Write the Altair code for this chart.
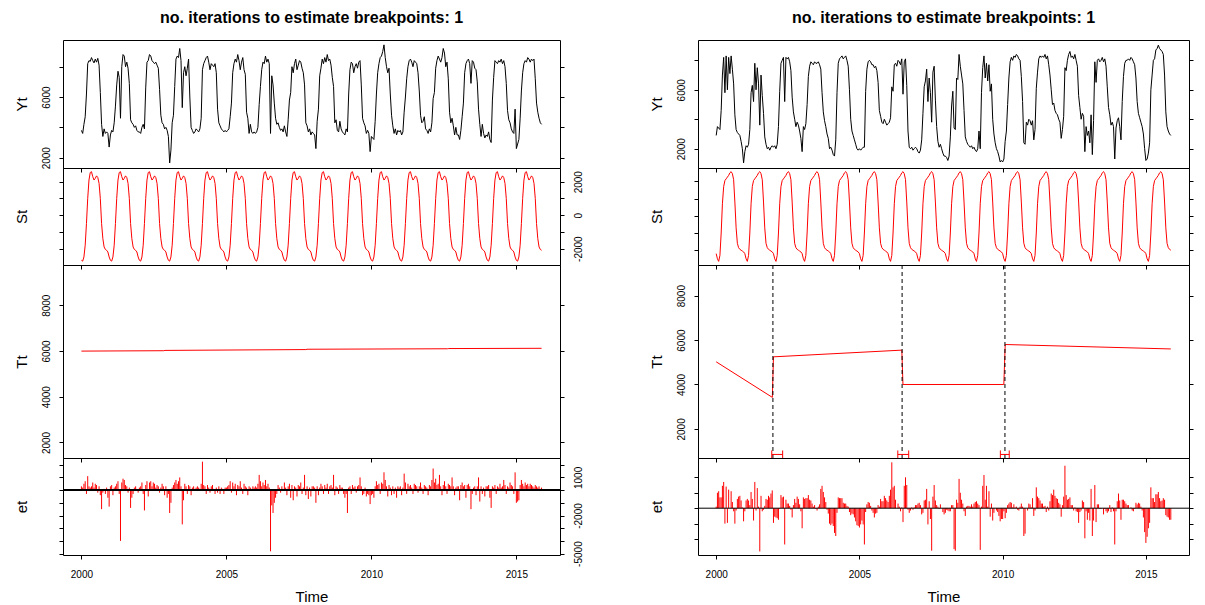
import json
import altair as alt
import pandas as pd

FONT = "Liberation Sans"
RED = "#ff0000"
TITLE = "no. iterations to estimate breakpoints: 1"
START_YEAR = 2000
OBS_PER_YEAR = 23
YEAR_TICKS = [2000, 2005, 2010, 2015]
X_DOMAIN = [1999.365, 2016.505]

# ---------------- left decomposition ----------------
yt_left = [
    [3800, 3600, 4200, 4700, 6200, 8200, 8400, 8350, 8600, 8400, 8250, 8500, 8300, 8550, 8100, 6300, 4200, 3400, 3900, 3600, 3700, 3600, 2700],
    [3500, 3800, 3700, 4300, 5400, 6800, 7700, 7300, 4600, 8000, 8800, 8700, 8000, 8300, 7900, 6900, 4500, 4300, 4200, 4000, 4100, 3800, 3700],
    [3700, 3600, 4000, 4200, 3900, 6600, 8300, 8400, 8800, 8700, 8400, 8300, 8200, 8300, 8100, 7900, 6500, 4800, 4300, 4200, 3900, 4000, 3800],
    [3400, 1650, 2500, 4300, 4800, 6700, 8500, 8700, 8600, 9200, 8400, 5300, 7600, 8000, 7400, 7900, 8500, 6000, 4000, 3800, 3600, 3700, 3900],
    [3800, 3700, 3900, 4600, 7800, 8200, 8400, 8600, 8700, 8300, 7800, 8200, 8100, 8000, 8200, 7600, 5200, 4300, 4100, 3900, 3800, 3700, 3800],
    [3700, 3800, 3900, 4700, 5600, 7600, 8200, 8500, 8300, 8800, 8400, 7800, 8300, 8600, 7800, 7500, 5000, 4600, 3600, 4200, 3700, 3600, 3700],
    [3600, 3700, 4000, 5500, 6700, 7800, 8300, 8200, 8700, 8300, 8500, 8200, 3600, 7400, 6800, 5600, 4600, 4200, 4300, 4000, 3800, 3900, 3700],
    [4100, 3700, 3400, 4500, 5800, 6300, 8000, 7600, 8200, 8500, 7800, 8100, 8400, 8300, 7900, 7600, 6800, 4300, 4100, 3700, 3900, 3500, 3700],
    [3600, 3500, 2600, 4400, 5200, 7400, 7900, 8500, 8200, 8600, 8300, 8800, 8400, 8500, 8100, 7300, 6700, 4300, 4500, 3800, 3700, 4400, 3900],
    [3700, 3600, 3500, 3900, 3700, 6200, 7800, 8300, 8200, 7600, 8000, 8200, 7900, 8300, 8400, 6800, 4600, 4300, 4100, 3600, 3800, 3600, 2400],
    [3400, 3300, 3200, 4400, 6200, 7600, 8200, 8600, 8700, 9000, 9440, 8600, 8000, 7600, 7900, 6200, 4800, 4100, 3600, 3900, 3500, 3800, 3700],
    [3800, 3500, 3700, 5000, 6000, 7200, 8000, 8400, 8500, 8300, 8000, 8400, 8300, 8200, 7600, 6400, 4800, 4300, 4400, 4700, 3900, 3800, 3600],
    [3900, 3700, 4300, 5900, 6300, 7900, 8400, 8700, 8500, 8300, 8600, 9200, 8900, 8000, 8300, 7200, 5000, 4300, 4600, 4100, 3500, 4000, 3500],
    [3500, 3200, 3800, 4700, 5600, 7600, 8200, 8400, 8500, 8200, 6900, 8400, 8300, 7900, 7800, 7000, 5200, 4200, 3400, 4200, 3600, 3300, 3500],
    [3400, 3700, 3200, 3000, 5800, 7300, 8400, 8300, 8200, 8400, 8300, 8500, 8200, 8400, 8000, 6900, 5100, 4500, 4300, 3900, 3700, 3600, 5200],
    [2600, 2900, 3200, 4600, 6400, 7600, 8200, 8400, 8300, 8600, 8500, 8300, 8500, 8400, 8500, 7200, 5600, 5000, 4600, 4300, 4200],
]
st_left_cycle = [-2700, -2750, -2500, -1800, -500, 1000, 2100, 2550, 2600, 2300, 2100, 2200,
                 2350, 2250, 1900, 1000, -500, -1400, -1900, -2050, -2100, -2200, -2500]
tt_left_time = [2000.0, 2002.84, 2002.88, 2007.74, 2007.78, 2012.63, 2012.67, 2015.87]
tt_left_value = [5995, 6012, 6025, 6062, 6076, 6097, 6106, 6117]
et_left = [
    [300, 200, 500, 700, -300, 1100, 300, 200, 300, 600, 200, 500, 400, -200, 300, -400, -1500, -200, 100, -300, 200, -600, -1300],
    [300, 400, -400, 200, 300, 500, 700, -300, -4000, 600, 900, 800, 400, 300, -200, 200, -1400, -600, -300, 200, 300, 100, -200],
    [200, 300, 600, -300, -1600, 400, 700, -500, 600, 700, 300, 600, 500, 200, 400, 300, -200, 200, 500, 300, -400, 300, -600],
    [-300, -1800, -1000, 200, 400, 600, 800, 500, 700, 1000, 300, -2700, -800, 500, 300, -300, 400, 300, -400, 200, 300, 100, 200],
    [300, 200, 100, 500, 2240, 400, 300, -300, 400, 200, -200, 300, 400, 100, -300, 200, -200, 300, -300, 200, 100, -300, 200],
    [200, 300, 400, 700, -200, 600, 300, 500, -400, 400, 300, 700, 200, -300, 500, 300, 200, -400, 300, 200, 100, 300, 200],
    [300, 200, 500, 1200, 700, 300, 600, 400, 800, 300, 500, 200, -4820, -1200, -1800, -1000, -600, -300, 400, 200, -200, 300, 100],
    [600, 200, -400, 300, 500, -600, 400, -800, 300, 200, -500, 400, 300, 600, -300, 200, 1200, -400, 300, -700, 200, -500, 300],
    [300, 200, -1000, 300, -400, 200, 500, 300, -300, 400, 200, 500, -300, 300, 400, 200, 1200, -400, 300, 200, -300, 400, 200],
    [200, -300, -600, -300, -1800, 200, 300, -300, 400, 200, 300, -200, 300, 400, 1000, 300, -400, -300, 200, -500, -300, -400, -1100],
    [-400, -300, -600, 300, 700, 400, 500, -300, 600, 500, 1400, 800, 300, -500, 400, 200, -400, 300, -300, 200, -600, 300, 200],
    [300, -400, 200, 1300, 600, -300, 500, 300, 400, 200, -300, 500, 400, 300, -200, 300, 600, 200, -300, 400, 300, 200, -400],
    [400, 300, 800, 1700, 600, 900, 400, 500, 1200, 300, -400, 400, 700, 300, -300, 500, 400, 300, 1000, 300, -400, 200, 300],
    [300, -800, 400, 600, 300, 400, -600, 400, 500, 300, -1500, -300, 200, 300, -400, 300, 1000, -900, 300, -300, 200, -500, 300],
    [300, 400, -600, -1400, 300, 200, 400, -300, 300, 200, 500, 200, 300, 800, 400, -300, 300, 200, 600, 400, 300, -300, 1400],
    [-1000, -900, -800, 400, 800, 500, 300, 600, 400, 500, 300, 500, 400, 300, 200, 400, 300, 200, 300, 100, 200],
]

# ---------------- right decomposition ----------------
yt_right = [
    [2900, 3500, 3400, 3300, 4600, 7000, 8200, 5800, 8300, 6000, 8200, 7100, 8300, 7400, 6400, 4300, 3300, 3100, 3000, 2900, 2500, 2000, 1040],
    [1800, 2200, 2100, 2300, 3300, 5800, 6300, 5200, 7800, 6000, 7500, 6400, 3600, 7000, 5600, 4400, 2800, 2300, 2000, 2100, 1900, 2100, 2200],
    [2100, 2200, 2000, 2300, 3500, 5900, 7800, 8000, 8200, 5200, 8200, 8100, 8200, 7900, 7300, 5500, 4500, 4000, 3500, 3800, 3600, 3200, 2700],
    [1800, 3500, 3300, 3700, 5000, 6900, 7600, 7900, 7800, 7700, 7900, 7800, 7800, 7900, 7700, 7400, 5800, 4500, 3900, 3500, 3000, 2700, 2000],
    [2100, 1900, 1600, 1500, 2600, 5800, 7800, 8100, 8200, 8300, 8100, 8200, 8300, 8000, 7600, 6000, 4000, 3200, 2900, 2600, 2300, 2000, 1900],
    [2000, 1900, 2000, 2100, 2100, 5900, 7400, 7900, 8000, 7900, 7700, 7700, 7500, 7600, 7300, 6500, 4600, 4200, 3800, 3700, 4000, 3800, 3600],
    [3700, 3800, 4100, 6200, 5900, 7700, 7800, 7600, 8000, 7900, 7700, 8100, 5700, 7900, 8100, 6300, 3200, 2100, 2000, 2100, 1900, 2000, 2100],
    [2000, 1800, 1700, 1900, 2600, 4400, 6200, 6600, 7400, 5200, 6800, 5800, 3800, 7200, 7600, 5300, 3500, 2500, 2100, 2300, 2000, 1700, 1500],
    [1500, 1400, 1200, 1500, 2800, 4900, 5900, 3400, 3300, 6800, 6700, 8400, 7600, 7000, 6400, 4600, 2800, 2500, 2300, 2200, 2100, 2200, 2000],
    [2100, 1900, 1800, 2000, 3200, 2000, 5800, 7500, 8300, 6800, 7800, 6600, 7700, 5900, 6400, 4000, 3000, 2400, 2000, 1800, 1500, 1100, 1200],
    [1100, 1300, 2500, 3200, 5000, 6800, 7900, 8200, 8000, 8300, 8200, 8400, 8300, 8100, 8000, 6900, 5200, 2400, 2300, 3800, 3600, 4000, 3900],
    [3600, 3900, 2600, 3300, 6100, 7200, 8100, 8300, 8200, 8300, 8200, 8400, 8100, 8300, 7700, 7000, 6000, 5000, 5100, 4600, 4400, 4300, 4000],
    [3800, 2700, 3300, 4200, 7500, 7300, 8000, 8400, 8600, 8200, 8300, 8100, 8400, 8000, 7600, 5600, 4800, 4000, 4400, 4200, 1800, 3500, 2900],
    [3200, 2400, 4300, 1600, 3900, 7900, 6500, 8000, 8100, 7900, 8000, 8200, 7900, 8100, 7600, 6200, 4800, 4300, 3600, 3800, 3500, 1300, 3400],
    [3900, 4100, 3500, 2600, 5200, 6900, 7800, 8000, 8000, 8100, 8000, 8200, 8100, 7900, 7700, 6800, 5200, 4400, 4100, 3800, 3500, 3000, 2000],
    [1200, 1300, 1700, 2400, 6000, 7000, 8000, 8100, 8700, 8800, 9030, 8800, 8700, 8600, 8400, 7000, 4500, 3500, 3200, 3000, 2900],
]
st_right_cycle = [-2200, -2500, -2650, -2300, -1000, 700, 1700, 2050, 2150, 2250, 2350, 2500,
                  2570, 2450, 2100, 800, -700, -1600, -1850, -1950, -2000, -2050, -2100]
tt_right_time = [2000.0, 2001.96, 2002.0, 2006.48, 2006.52, 2010.04, 2010.09, 2015.87]
tt_right_value = [5020, 3420, 5245, 5547, 4000, 4000, 5800, 5600]
breaks_right = [2001.98, 2006.49, 2010.08]
ci_low_right = [2001.94, 2006.34, 2009.92]
ci_high_right = [2002.32, 2006.72, 2010.23]
et_right = [
    [100, 1000, 1100, 700, 700, 1450, 1700, -1000, 1400, -950, 1200, 0, 1100, 400, -200, -1000, -150, 600, 750, 800, 500, 50, -850],
    [-200, 500, 600, 500, 200, 1050, 600, -800, 1700, -150, 1300, 100, -2800, 800, -200, -100, 150, 600, 550, 800, 700, 950, 1150],
    [-950, -550, -600, -650, -750, -50, 850, 700, 750, -2350, 550, 300, 300, 150, -100, -600, 200, 600, 350, 750, 600, 250, -200],
    [-1300, 700, 600, 650, 650, 850, 550, 500, 300, 100, 200, -50, -150, 100, 250, 1250, 1450, 1050, 700, 400, -100, -350, -1000],
    [-1100, -1000, -1150, -1600, -1800, -300, 700, 650, 650, 650, 350, 300, 300, 150, 100, -250, -450, -350, -400, -600, -850, -1100, -1150],
    [-1250, -1050, -800, -1050, -2350, -250, 250, 400, 350, 150, -150, -300, -600, -350, -300, 200, 100, 600, 450, 450, 800, 650, 500],
    [400, 800, 1200, 2970, 1350, 1450, 550, 0, 300, 100, -200, 50, -900, 1450, 2000, 1500, -100, -300, -150, 50, -100, 50, 200],
    [200, 300, 350, 200, -400, -300, 500, 550, 1250, -1050, 450, -700, -2750, 750, 1500, 500, 200, 100, -50, 250, 0, -250, -400],
    [-300, -100, -150, -200, -200, 200, 200, -2650, -2750, 550, 350, 1900, 1000, 550, 300, -200, -500, 100, 150, 150, 100, 250, 100],
    [300, 400, 450, 300, 200, -2700, 100, 1450, 2150, 550, 1450, 100, 1100, -550, 300, -800, -300, 0, -150, -250, -500, -850, -700],
    [-700, -200, -650, -300, 200, 300, 400, 350, 50, 250, 50, 100, -100, -150, 100, 300, 100, -1800, -1650, 0, -150, 300, 250],
    [50, 650, -500, -150, 1350, 750, 650, 500, 300, 300, 100, 150, -250, 100, -150, 450, 950, 850, 1200, 800, 650, 600, 350],
    [250, -550, 200, 750, 2750, 850, 550, 600, 700, 200, 200, -150, 50, -200, -250, -950, -250, -150, 500, 400, -1950, -200, -750],
    [-300, -800, 1250, -1800, -800, 1500, -900, 250, 250, -50, -50, 0, -400, -50, -200, -300, -200, 200, -250, 50, -200, -2350, -200],
    [450, 950, 500, -750, 550, 550, 450, 300, 200, 200, 0, 50, -150, -200, -50, 350, 250, 350, 300, 100, -150, -600, -1550],
    [-2250, -1850, -1300, -950, 1350, 650, 650, 400, 900, 900, 1050, 650, 450, 500, 650, 550, -450, -550, -600, -750, -750],
]


def flat(rows):
    return [v for r in rows for v in r]


def series_frame(values):
    t = [START_YEAR + i / OBS_PER_YEAR for i in range(len(values))]
    return pd.DataFrame({"t": t, "v": values})


def seasonal_frame(cycle, n):
    return series_frame([cycle[i % OBS_PER_YEAR] for i in range(n)])


XSCALE = alt.Scale(domain=X_DOMAIN, nice=False, zero=False)


def x_axis(bottom):
    return alt.Axis(
        values=YEAR_TICKS, labels=bottom, format="d", title="Time" if bottom else None,
        tickSize=4, tickColor="black", domain=False, grid=False,
        labelFont=FONT, labelFontSize=10, labelColor="black", labelPadding=18,
        labelBaseline="alphabetic", labelFlush=False,
        titleFont=FONT, titleFontSize=15, titleFontWeight="normal", titleColor="black",
        titleBaseline="alphabetic", titleY=46.5,
    )


def y_axis(orient, ticks, shown, title, height):
    kw = dict(orient=orient, values=ticks, tickSize=4, tickColor="black", domain=False, grid=False,
              labelFont=FONT, labelFontSize=10, labelColor="black", labelAngle=270,
              labelAlign="center", labelBaseline="alphabetic",
              labelPadding=9.5 if orient == "left" else 17, labelOverlap=False, labelFlush=False)
    if shown:
        kw["labelExpr"] = "indexof(%s, datum.value) >= 0 ? '' + datum.value : ''" % json.dumps(shown)
    else:
        kw["labels"] = False
    if title:
        kw.update(title=title, titleFont=FONT, titleFontSize=15, titleFontWeight="normal",
                  titleColor="black", titleAngle=270, titleAlign="center",
                  titleBaseline="alphabetic", titleX=-37, titleY=height / 2)
    else:
        kw["title"] = None
    return alt.Axis(**kw)


def panel(main_df, main_mark, extra_layers, ysc, ticks, left_shown, right_shown, title,
          width, height, bottom, top_title=False):
    """Main layer carries the left axis, a transparent copy of it carries the right axis."""
    enc_x = alt.X("t:Q", scale=XSCALE, axis=x_axis(bottom))
    main = main_mark(alt.Chart(main_df)).encode(
        x=enc_x, y=alt.Y("v:Q", scale=ysc, axis=y_axis("left", ticks, left_shown, title, height)))
    mirror = alt.Chart(main_df).mark_line(strokeOpacity=0).encode(
        x=enc_x, y=alt.Y("v:Q", scale=ysc, axis=y_axis("right", ticks, right_shown, None, height)))
    kw = dict(width=width, height=height)
    if top_title:
        kw["title"] = alt.TitleParams(
            TITLE, font=FONT, fontSize=16, fontWeight="bold", color="black",
            anchor="middle", baseline="alphabetic", offset=1.5)
    return alt.layer(main, *extra_layers, mirror, **kw).resolve_axis(y="independent")


def column(yt, st_cycle, tt_t, tt_v, et, doms, width, right_labels, zero_width,
           breaks=None, ci_lo=None, ci_hi=None):
    yt_df = series_frame(flat(yt))
    st_df = seasonal_frame(st_cycle, len(yt_df))
    tt_df = pd.DataFrame({"t": tt_t, "v": tt_v})
    et_df = series_frame(flat(et))
    H = [128, 97, 193, 97]
    xa = x_axis(False)

    ysc = alt.Scale(domain=doms[0], nice=False, zero=False)
    p_yt = panel(yt_df, lambda c: c.mark_line(color="black", strokeWidth=1), [],
                 ysc, [2000, 4000, 6000, 8000], [2000, 6000], [], "Yt", width, H[0], False,
                 top_title=True)

    ysc = alt.Scale(domain=doms[1], nice=False, zero=False)
    p_st = panel(st_df, lambda c: c.mark_line(color=RED, strokeWidth=1), [],
                 ysc, [-2000, -1000, 0, 1000, 2000], [],
                 [-2000, 0, 2000] if right_labels else [], "St", width, H[1], False)

    ysc = alt.Scale(domain=doms[2], nice=False, zero=False)
    extra = []
    if breaks:
        bp_df = pd.DataFrame({"bp": breaks})
        ci_df = pd.DataFrame({"lo": ci_lo, "hi": ci_hi})
        extra.append(alt.Chart(bp_df).mark_rule(
            color="black", strokeDash=[4, 3], strokeWidth=1).encode(
            x=alt.X("bp:Q", scale=XSCALE, axis=xa),
            y=alt.YDatum(doms[2][0], scale=ysc, axis=None),
            y2=alt.datum(doms[2][1])))
        extra.append(alt.Chart(ci_df).mark_rule(color=RED, strokeWidth=1).encode(
            x=alt.X("lo:Q", scale=XSCALE, axis=xa), x2="hi:Q",
            y=alt.YDatum(850, scale=ysc, axis=None)))
        extra.append(alt.Chart(ci_df).transform_fold(["lo", "hi"], as_=["end", "x"]).mark_rule(
            color=RED, strokeWidth=1).encode(
            x=alt.X("x:Q", scale=XSCALE, axis=xa),
            y=alt.YDatum(doms[2][0], scale=ysc, axis=None),
            y2=alt.datum(1030)))
    p_tt = panel(tt_df, lambda c: c.mark_line(color=RED, strokeWidth=1), extra,
                 ysc, [2000, 4000, 6000, 8000], [2000, 4000, 6000, 8000], [],
                 "Tt", width, H[2], False)

    ysc = alt.Scale(domain=doms[3], nice=False, zero=False)
    zero_df = pd.DataFrame({"baseline": ["zero"]})
    xb = x_axis(True)
    zero = alt.Chart(zero_df).mark_rule(color="black", strokeWidth=zero_width).encode(
        x=alt.XDatum(X_DOMAIN[0], scale=XSCALE, axis=xb), x2=alt.datum(X_DOMAIN[1]),
        y=alt.YDatum(0, scale=ysc, axis=None))
    if right_labels:
        et_ticks = [-5000, -4000, -3000, -2000, -1000, 0, 1000, 2000]
        et_shown = [-5000, -2000, 1000]
    else:
        et_ticks = [-2000, -1000, 0, 1000, 2000]
        et_shown = []
    p_et = panel(et_df, lambda c: c.mark_rule(color=RED, strokeWidth=1).encode(y2=alt.datum(0)),
                 [zero], ysc, et_ticks, [], et_shown, "et", width, H[3], True)

    return [p_yt, p_st, p_tt, p_et]


left = column(yt_left, st_left_cycle, tt_left_time, tt_left_value, et_left,
              [[1320, 9760], [-2980, 2820], [1320, 9760], [-5110, 2530]],
              497, True, 2)
right = column(yt_right, st_right_cycle, tt_right_time, tt_right_value, et_right,
               [[690, 9380], [-2860, 2780], [690, 9380], [-3030, 3250]],
               491, False, 1, breaks_right, ci_low_right, ci_high_right)

cells = []
for a, b in zip(left, right):
    cells.extend([a, b])

chart = alt.concat(*cells, columns=2, spacing={"row": 0, "column": 138}, bounds="flush").properties(
    padding={"left": 5, "top": 1, "right": 0, "bottom": 0}
).configure(font=FONT).configure_view(stroke="black", strokeWidth=1)

chart.save("out.html", embed_options={"renderer": "svg", "actions": False})
